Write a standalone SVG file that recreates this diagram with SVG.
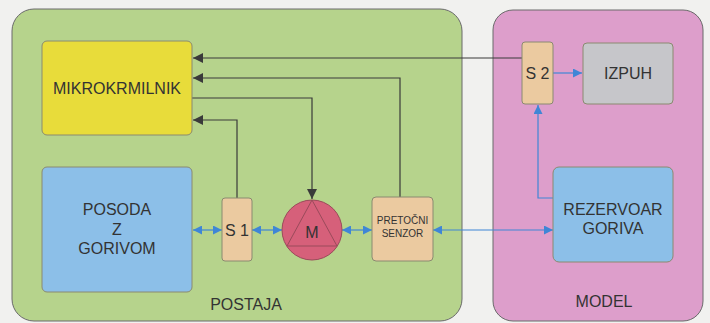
<svg xmlns="http://www.w3.org/2000/svg" width="710" height="323" viewBox="0 0 710 323">
<defs>
<style>
.panel{stroke:#6a6a6a;stroke-width:1}
.box{stroke:#8a8a70;stroke-width:1}
.t{font-family:"Liberation Sans",Arial,sans-serif;fill:#333;text-anchor:middle}
.wire{fill:none;stroke:#3a3a3a;stroke-width:1.2}
.flow{fill:none;stroke:#3f86d6;stroke-width:1.2}
</style>
<marker id="ab" viewBox="0 0 10 10" refX="10" refY="5" markerWidth="10" markerHeight="10" markerUnits="userSpaceOnUse" orient="auto-start-reverse"><path d="M0,0 L10,5 L0,10 Z" fill="#3a3a3a"/></marker>
<marker id="ablue" viewBox="0 0 10 10" refX="10" refY="5" markerWidth="9" markerHeight="9" markerUnits="userSpaceOnUse" orient="auto-start-reverse"><path d="M0,0 L10,5 L0,10 Z" fill="#3f86d6"/></marker>
</defs>
<rect x="0" y="0" width="710" height="323" fill="#f1f1ef"/>
<g id="postaja">
<rect class="panel" x="12" y="9" width="450" height="312" rx="22" fill="#b6d38c"/>
<text class="t" x="246" y="310" font-size="16">POSTAJA</text>
</g>
<g id="model">
<rect class="panel" x="493" y="10" width="210" height="311" rx="20" fill="#dd9ecb"/>
<text class="t" x="604" y="307" font-size="16">MODEL</text>
</g>
<g id="connectors">
<path class="wire" d="M522,58 H193" marker-end="url(#ab)"/>
<path class="wire" d="M400,197 V78 H193" marker-end="url(#ab)"/>
<path class="wire" d="M192,98 H312 V199" marker-end="url(#ab)"/>
<path class="wire" d="M237,198 V120 H193" marker-end="url(#ab)"/>
<path class="flow" d="M553,73 H582" marker-end="url(#ablue)"/>
<path class="flow" d="M553,198 H538 V105" marker-end="url(#ablue)"/>
<path class="flow" d="M193,230 H222" marker-start="url(#ablue)" marker-end="url(#ablue)"/>
<path class="flow" d="M252,230 H282" marker-start="url(#ablue)" marker-end="url(#ablue)"/>
<path class="flow" d="M342,230 H372" marker-start="url(#ablue)" marker-end="url(#ablue)"/>
<path class="flow" d="M433,230 H553" marker-start="url(#ablue)" marker-end="url(#ablue)"/>
</g>
<g id="mikrokrmilnik">
<rect class="box" x="42" y="41" width="150" height="94" rx="5" fill="#e8dc3a"/>
<text class="t" x="117" y="94" font-size="16">MIKROKRMILNIK</text>
</g>
<g id="posoda">
<rect class="box" x="42" y="167" width="150" height="125" rx="5" fill="#8cbfe8"/>
<text class="t" x="117" y="215" font-size="16">POSODA</text>
<text class="t" x="117" y="235" font-size="16">Z</text>
<text class="t" x="117" y="254" font-size="16">GORIVOM</text>
</g>
<g id="s1">
<rect class="box" x="222" y="198" width="30" height="63" rx="3" fill="#ebcaa0"/>
<text class="t" x="237" y="236" font-size="16">S 1</text>
</g>
<g id="motor">
<circle cx="312" cy="230" r="30" fill="#d6607a" stroke="#9a4a5a" stroke-width="1"/>
<path d="M312,200 L287,246 H337 Z" fill="none" stroke="#9a4a5a" stroke-width="1"/>
<text class="t" x="312" y="238" font-size="16">M</text>
</g>
<g id="pretocni">
<rect class="box" x="372" y="197" width="61" height="64" rx="4" fill="#ebcaa0"/>
<text class="t" x="402.5" y="224" font-size="10">PRETOČNI</text>
<text class="t" x="402.5" y="237" font-size="10">SENZOR</text>
</g>
<g id="s2">
<rect class="box" x="522" y="42" width="31" height="62" rx="3" fill="#ebcaa0"/>
<text class="t" x="537.5" y="79" font-size="16">S 2</text>
</g>
<g id="izpuh">
<rect class="box" x="583" y="43" width="90" height="61" rx="4" fill="#c6c6ca"/>
<text class="t" x="628" y="79" font-size="16">IZPUH</text>
</g>
<g id="rezervoar">
<rect class="box" x="553" y="167" width="120" height="95" rx="6" fill="#8cbfe8"/>
<text class="t" x="613" y="215" font-size="16">REZERVOAR</text>
<text class="t" x="613" y="234" font-size="16">GORIVA</text>
</g>
</svg>
